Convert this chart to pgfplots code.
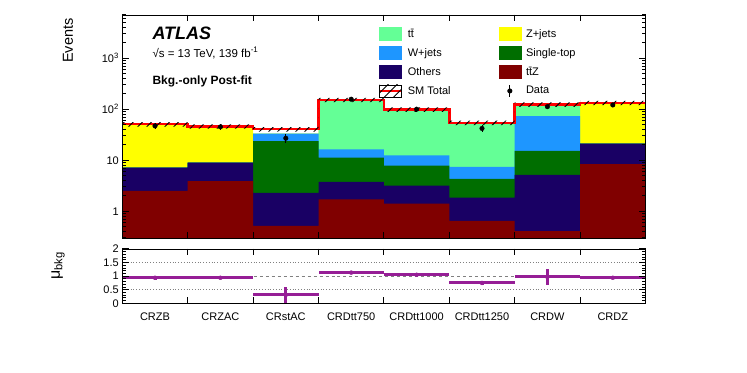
\documentclass[border=0pt]{standalone}
\usepackage{fontspec}
\setmainfont{Liberation Sans}
\usepackage{pgfplots}
\pgfplotsset{compat=1.18}
\usetikzlibrary{patterns.meta}

\definecolor{cTT}{RGB}{100,255,150}
\definecolor{cZ}{RGB}{255,255,0}
\definecolor{cW}{RGB}{30,150,255}
\definecolor{cST}{RGB}{0,110,0}
\definecolor{cOth}{RGB}{25,0,100}
\definecolor{cTTZ}{RGB}{128,0,0}
\definecolor{cMu}{RGB}{150,30,150}

\tikzset{hatch/.style={pattern={Lines[angle=45,distance=6.4bp,line width=0.9bp]},pattern color=black}}
\newcommand{\lbl}{\fontsize{11bp}{13bp}\selectfont}

\pgfplotsset{
  hep/.style={
    scale only axis, width=523.2bp, xmin=0, xmax=8,
    axis on top,
    xtick align=inside, ytick align=inside,
    xtick pos=both, ytick pos=both,
    major tick length=6.5bp, minor tick length=3.3bp,
    tick style={draw=black, line width=1bp},
    axis line style={line width=0.9bp},
    tick label style={font=\lbl},
    xtick={1,2,3,4,5,6,7}, xticklabels={},
  },
  % empty copy of a panel, flipped, so that its ticks land on the other sides
  mirror/.style={hep, yticklabels={}, xticklabels={}},
  % one stack layer: step outline from the bottom of the axis
  stacklayer/.style={const plot, draw=none, fill=#1, forget plot},
}

\begin{document}
\begin{tikzpicture}
\path[use as bounding box] (0,0) rectangle (747bp,373bp);

% ---- main panel: cumulative stack (top of each layer) ----
\begin{axis}[hep, at={(122.3bp,135bp)}, anchor=south west, height=223bp,
  ymode=log, ymin=0.3, ymax=7000,
  ytick={1,10,100,1000}, yticklabels={1,10,10\textsuperscript{2},10\textsuperscript{3}},
  minor ytick={0.3,0.4,0.5,0.6,0.7,0.8,0.9,2,3,4,5,6,7,8,9,20,30,40,50,60,70,80,90,
    200,300,400,500,600,700,800,900,2000,3000,4000,5000,6000,7000},
  legend columns=2, legend cell align=left,
  legend style={at={(0.489,0.945)}, anchor=north west, draw=none, fill=none,
    inner sep=0pt, font=\lbl, row sep=6bp,
    nodes={inner sep=0pt},
    /tikz/every odd column/.append style={column sep=5bp},
    /tikz/every even column/.append style={column sep=48bp}},
]
\addlegendimage{legend image code/.code={\fill[cTT] (0bp,-6.3bp) rectangle (22bp,6.3bp);}}
\addlegendentry{t\={t}}
\addlegendimage{legend image code/.code={\fill[cZ] (0bp,-6.3bp) rectangle (22bp,6.3bp);}}
\addlegendentry{Z+jets}
\addlegendimage{legend image code/.code={\fill[cW] (0bp,-6.3bp) rectangle (22bp,6.3bp);}}
\addlegendentry{W+jets}
\addlegendimage{legend image code/.code={\fill[cST] (0bp,-6.3bp) rectangle (22bp,6.3bp);}}
\addlegendentry{Single-top}
\addlegendimage{legend image code/.code={\fill[cOth] (0bp,-6.3bp) rectangle (22bp,6.3bp);}}
\addlegendentry{Others}
\addlegendimage{legend image code/.code={\fill[cTTZ] (0bp,-6.3bp) rectangle (22bp,6.3bp);}}
\addlegendentry{t\={t}Z}
\addlegendimage{legend image code/.code={
  \draw[red, line width=2.5bp] (0bp,0bp) -- (22bp,0bp);
  \fill[hatch] (0bp,-6bp) rectangle (22bp,6bp);}}
\addlegendentry{SM Total}
\addlegendimage{legend image code/.code={
  \draw[black, line width=1bp] (11bp,-6bp) -- (11bp,6bp);
  \fill[black] (11bp,0bp) circle (2.3bp);}}
\addlegendentry{Data}

% Z+jets (top of stack)
\addplot[stacklayer=cZ] coordinates {(0,0.3)(0,50.8)(1,46)(2,33.4)(3,152)(4,99)(5,54)(6,124)(7,133)(8,133)(8,0.3)};
% ttbar
\addplot[stacklayer=cTT] coordinates {(0,0.3)(0,7.2)(1,9.0)(2,33.4)(3,152)(4,99)(5,54)(6,124)(7,21.2)(8,21.2)(8,0.3)};
% W+jets
\addplot[stacklayer=cW] coordinates {(0,0.3)(0,7.2)(1,9.0)(2,33.4)(3,16.4)(4,12.4)(5,7.4)(6,72.9)(7,21.2)(8,21.2)(8,0.3)};
% Single-top
\addplot[stacklayer=cST] coordinates {(0,0.3)(0,7.2)(1,9.0)(2,23.6)(3,11.3)(4,7.87)(5,4.3)(6,15.2)(7,21.2)(8,21.2)(8,0.3)};
% Others
\addplot[stacklayer=cOth] coordinates {(0,0.3)(0,7.2)(1,9.0)(2,2.3)(3,3.76)(4,3.19)(5,1.85)(6,5.15)(7,21.2)(8,21.2)(8,0.3)};
% ttZ
\addplot[stacklayer=cTTZ] coordinates {(0,0.3)(0,2.5)(1,3.9)(2,0.52)(3,1.72)(4,1.42)(5,0.65)(6,0.41)(7,8.35)(8,8.35)(8,0.3)};

% SM total and its uncertainty band (upper edge, then lower edge backwards)
\addplot[const plot, red, line width=2.5bp, forget plot] coordinates
  {(0,50.8)(1,46)(2,40.5)(3,152)(4,99)(5,54)(6,124)(7,133)(8,133)};
\addplot[const plot, draw=none, hatch, forget plot] coordinates
  {(0,55.9)(1,50.6)(2,44.6)(3,167.2)(4,108.9)(5,59.4)(6,136.4)(7,146.3)(8,146.3)
   (8,119.7)(7,111.6)(6,48.6)(5,89.1)(4,136.8)(3,36.5)(2,41.4)(1,45.7)(0,45.7)};

% data
\addplot[black, only marks, mark=*, mark size=2.3bp, forget plot,
  error bars/.cd, y dir=both, y explicit, error mark=none,
  error bar style={line width=1bp}] coordinates {
  (0.5,47) +- (0,6.9)
  (1.5,45) +- (0,6.7)
  (2.5,27) +- (0,5.2)
  (3.5,157) +- (0,12.5)
  (4.5,100) +- (0,10)
  (5.5,42) +- (0,6.5)
  (6.5,112) +- (0,10.6)
  (7.5,121) +- (0,11)
};
\end{axis}

% flipped copies of the main panel frame for the left and bottom ticks
\begin{axis}[mirror, at={(122.3bp,135bp)}, anchor=south west, height=223bp,
  x dir=reverse, ymode=log, ymin=0.3, ymax=7000,
  ytick={1,10,100,1000},
  minor ytick={0.3,0.4,0.5,0.6,0.7,0.8,0.9,2,3,4,5,6,7,8,9,20,30,40,50,60,70,80,90,
    200,300,400,500,600,700,800,900,2000,3000,4000,5000,6000,7000},
]
\end{axis}
\begin{axis}[mirror, at={(122.3bp,135bp)}, anchor=south west, height=223bp,
  y dir=reverse, ymin=0, ymax=1, ytick=\empty,
]
\end{axis}

% ---- ratio panel ----
\begin{axis}[hep, at={(122.3bp,69.7bp)}, anchor=south west, height=54.3bp,
  ymin=0, ymax=2,
  ytick={0,0.5,1,1.5,2}, yticklabels={0,0.5,1,1.5,2}, minor y tick num=4,
  extra x ticks={0.5,1.5,2.5,3.5,4.5,5.5,6.5,7.5},
  extra x tick labels={CRZB,CRZAC,CRstAC,CRDtt750,CRDtt1000,CRDtt1250,CRDW,CRDZ},
  extra x tick style={major tick length=0pt, xticklabel style={yshift=-6bp}},
]
\addplot[gray, dashed, line width=0.8bp] coordinates {(0,1)(8,1)};
\addplot[gray, dotted, line width=0.8bp] coordinates {(0,0.5)(8,0.5)};
\addplot[gray, dotted, line width=0.8bp] coordinates {(0,1.5)(8,1.5)};
\addplot[cMu, only marks, mark=none,
  error bars/.cd, x dir=both, x explicit, y dir=both, y explicit, error mark=none,
  error bar style={line width=3bp, cMu}] coordinates {
  (0.5,0.94) +- (0.5,0.07)
  (1.5,0.94) +- (0.5,0.06)
  (2.5,0.31) +- (0.5,0.30)
  (3.5,1.13) +- (0.5,0.06)
  (4.5,1.05) +- (0.5,0.06)
  (5.5,0.75) +- (0.5,0.08)
  (6.5,0.97) +- (0.5,0.30)
  (7.5,0.94) +- (0.5,0.06)
};
\end{axis}

% flipped copy of the ratio frame for the left and bottom ticks
\begin{axis}[mirror, at={(122.3bp,69.7bp)}, anchor=south west, height=54.3bp,
  x dir=reverse, y dir=reverse, ymin=0, ymax=2,
  ytick={0,0.5,1,1.5,2}, minor y tick num=4,
]
\end{axis}

% ---- labels ----
\node[rotate=90, anchor=east, font=\fontsize{14.5bp}{16bp}\selectfont] at (68bp,358bp) {Events};
\node[rotate=90, font=\fontsize{16bp}{18bp}\selectfont] at (58bp,107bp) {μ\textsubscript{bkg}};
\node[anchor=west, font=\fontsize{18bp}{20bp}\selectfont\bfseries\itshape] at (149bp,340bp) {ATLAS};
\node[anchor=west, font=\fontsize{11.5bp}{13bp}\selectfont] at (149bp,320bp) {√s = 13 TeV, 139 fb\textsuperscript{-1}};
\node[anchor=west, font=\fontsize{12bp}{14bp}\selectfont\bfseries] at (149bp,292bp) {Bkg.-only Post-fit};
\end{tikzpicture}
\end{document}
